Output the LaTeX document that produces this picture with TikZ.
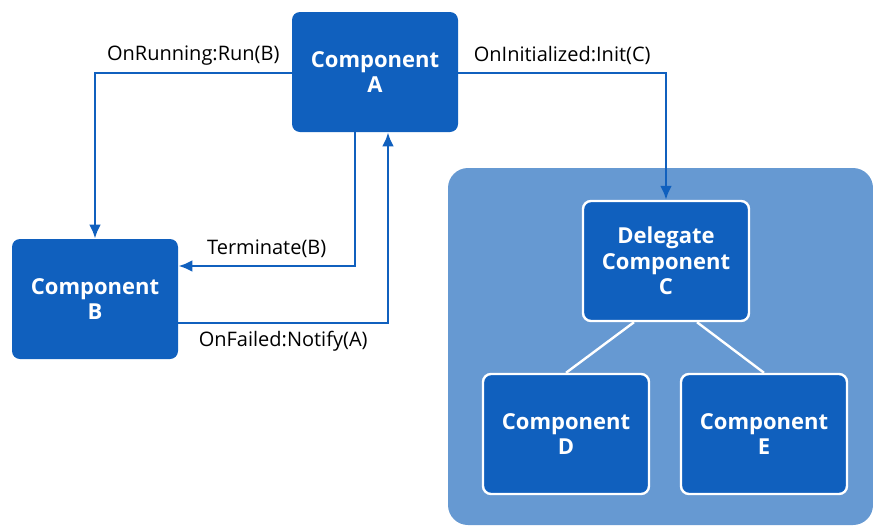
\documentclass[tikz,border=0pt]{standalone}
\usepackage{fontspec}
\setmainfont{Open Sans}
\usetikzlibrary{arrows.meta,positioning}
\definecolor{compblue}{HTML}{1060BE}
\definecolor{groupblue}{HTML}{6699D2}

\begin{document}
\begin{tikzpicture}[x=0.5pt,y=-0.5pt,
    comp/.style={fill=compblue, rounded corners=4pt, minimum width=83pt, minimum height=60pt,
      text=white, align=center, font=\bfseries\fontsize{11}{12.8}\selectfont},
    inner comp/.style={comp, draw=white, line width=1.2pt},
    link/.style={draw=compblue, line width=1.35pt, -{Latex[length=7pt,width=6pt]}},
    lbl/.style={font=\fontsize{10}{12}\selectfont}]
    \useasboundingbox (0,0) rectangle (873,525);
    \fill[groupblue, rounded corners=10pt] (448,168) rectangle (873,525);
    \node[comp](compa) at (375,72) {Component\\A};
    \node[comp](compb) at (95,299) {Component\\B};
    \node[inner comp](delc) at (666,261) {Delegate\\Component\\C};
    \node[inner comp](compd) at (566,434) {Component\\D};
    \node[inner comp](compe) at (764,434) {Component\\E};
    \draw[link] ([yshift=-0.5pt]compa.west) -| (compb.north) node[pos=0.25, above, lbl] {OnRunning:Run(B)};
    \draw[link] ([yshift=-0.5pt]compa.east) -| (delc.north) node[pos=0.25, above, lbl] {OnInitialized:Init(C)};
    \draw[link] ([xshift=-10pt]compa.south) |- ([yshift=16.5pt]compb.east) node[pos=0.75, above, lbl] {Terminate(B)};
    \draw[link] ([yshift=-12pt]compb.east) -| ([xshift=6.5pt]compa.south) node[pos=0.25, below, lbl] {OnFailed:Notify(A)};
    \draw[white, line width=1.2pt] ([xshift=-16pt]delc.south) -- (compd.north);
    \draw[white, line width=1.2pt] ([xshift=15.5pt]delc.south) -- (compe.north);
\end{tikzpicture}
\end{document}
